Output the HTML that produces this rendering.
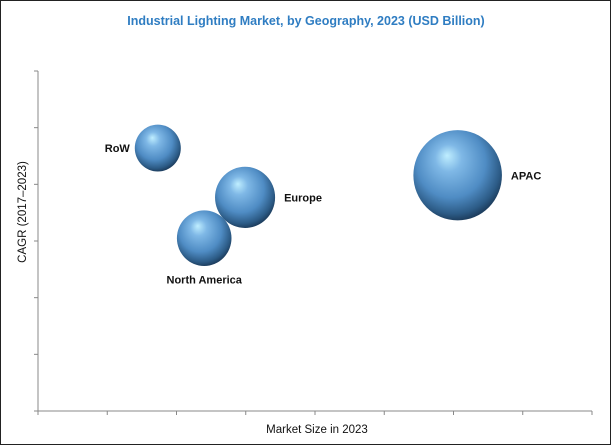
<!DOCTYPE html>
<html><head><meta charset="utf-8"><style>
html,body{margin:0;padding:0;background:#fff;}
#wrap{position:relative;width:611px;height:445px;box-sizing:border-box;border:1px solid #222;overflow:hidden;}
svg{position:absolute;left:0;top:0;}
</style></head><body>
<div id="wrap">
<svg id="chart" width="611" height="445">
<defs>
<radialGradient id="ball" cx="0.45" cy="0.4" r="0.6" fx="0.38" fy="0.28">
<stop offset="0" stop-color="#bfeeff"/>
<stop offset="0.25" stop-color="#7fb8e6"/>
<stop offset="0.65" stop-color="#4f8cc4"/>
<stop offset="0.9" stop-color="#2c5b86"/>
<stop offset="1" stop-color="#1e3f60"/>
</radialGradient>
</defs>
<text x="305" y="24" text-anchor="middle" font-family="Liberation Sans, sans-serif" font-size="12.5" font-weight="bold" fill="#2f7dc2">Industrial Lighting Market, by Geography, 2023 (USD Billion)</text>
<text x="316" y="432" text-anchor="middle" font-family="Liberation Sans, sans-serif" font-size="11.5" fill="#111">Market Size in 2023</text>
<text transform="translate(25,211) rotate(-90)" text-anchor="middle" font-family="Liberation Sans, sans-serif" font-size="11.5" fill="#111">CAGR (2017–2023)</text>
<g id="axes"></g>
<g id="marks"></g>
</svg>
</div>
<script>
const categories = ["RoW","Europe","North America","APAC"];
const xValues = [1.73, 2.99, 2.40, 6.06];
const yValues = [4.64, 3.77, 3.05, 4.16];
const sizeValues = [2.7, 4.6, 3.8, 10];
const xTicks = [0,1,2,3,4,5,6,7,8];
const yTicks = [0,1,2,3,4,5,6];

const X0=37, X1=591, Y0=410, Y1=70;
const xScale = v => X0 + (v/8)*(X1-X0);
const yScale = v => Y0 - (v/6)*(Y0-Y1);
const rScale = v => 14*Math.sqrt(v);
const NS="http://www.w3.org/2000/svg";
const axes=document.getElementById('axes'), marks=document.getElementById('marks');
function mk(tag, attrs, parent){const e=document.createElementNS(NS,tag);for(const k in attrs)e.setAttribute(k,attrs[k]);parent.appendChild(e);return e;}

const ya=mk('line',{x1:X0,y1:Y1,x2:X0,y2:Y0,stroke:'#888','stroke-width':1},axes);


const xa=mk('line',{x1:X0,y1:Y0,x2:X1,y2:Y0,stroke:'#888','stroke-width':1},axes);


yTicks.forEach(t=>{
  const l=mk('line',{x1:X0-4,y1:yScale(t),x2:X0,y2:yScale(t),stroke:'#888'},axes);
  
  
});
xTicks.forEach(t=>{
  const l=mk('line',{x1:xScale(t),y1:Y0,x2:xScale(t),y2:Y0+4,stroke:'#888'},axes);
  
  
});

categories.forEach((c,i)=>{
  const cx=xScale(xValues[i]), cy=yScale(yValues[i]), r=rScale(sizeValues[i]);
  const b=mk('ellipse',{cx:cx,cy:cy,rx:r,ry:r*1.02,fill:'url(#ball)'},marks);
  
  
  let tx, ty, anchor;
  if(c==="RoW"){tx=cx-r-5;ty=cy+4;anchor='end';}
  else if(c==="North America"){tx=cx;ty=cy+r+18;anchor='middle';}
  else {tx=cx+r+9;ty=cy+4;anchor='start';}
  const t=mk('text',{x:tx,y:ty,'text-anchor':anchor,'font-family':'Liberation Sans, sans-serif','font-size':'11','font-weight':'bold',fill:'#111'},marks);
  t.textContent=c;
  
  
});
</script>
</body></html>
